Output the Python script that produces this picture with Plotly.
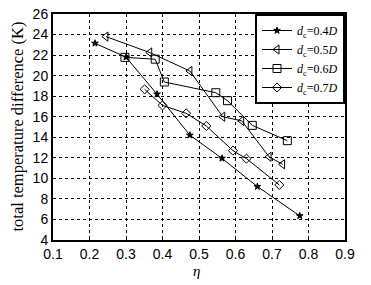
import plotly.graph_objects as go

x_04 = [0.215, 0.30, 0.385, 0.475, 0.563, 0.66, 0.776]
y_04 = [23.15, 21.8, 18.2, 14.2, 11.95, 9.2, 6.35]
x_05 = [0.245, 0.365, 0.475, 0.565, 0.617, 0.692, 0.729]
y_05 = [23.8, 22.25, 20.45, 16.0, 15.6, 12.1, 11.37]
x_06 = [0.297, 0.38, 0.405, 0.546, 0.578, 0.646, 0.742]
y_06 = [21.78, 21.6, 19.38, 18.34, 17.56, 15.16, 13.67]
x_07 = [0.351, 0.40, 0.465, 0.52, 0.593, 0.63, 0.72]
y_07 = [18.67, 17.1, 16.33, 15.1, 12.7, 11.92, 9.36]

names = ["<i>d</i><sub>c</sub>=0.4<i>D</i>", "<i>d</i><sub>c</sub>=0.5<i>D</i>",
         "<i>d</i><sub>c</sub>=0.6<i>D</i>", "<i>d</i><sub>c</sub>=0.7<i>D</i>"]
x_ticks = [0.1, 0.2, 0.3, 0.4, 0.5, 0.6, 0.7, 0.8, 0.9]
y_ticks = [4, 6, 8, 10, 12, 14, 16, 18, 20, 22, 24, 26]

series = [(x_04, y_04, "star", 5), (x_05, y_05, "triangle-left-open", 8),
          (x_06, y_06, "square-open", 8), (x_07, y_07, "diamond-open", 7)]

fig = go.Figure()
for (xs, ys, sym, sz), nm in zip(series, names):
    fig.add_trace(go.Scatter(x=xs, y=ys, mode="lines+markers", name=nm,
                             line=dict(color="black", width=1),
                             marker=dict(symbol=sym, size=sz, color="black",
                                         line=dict(color="black", width=1))))

axis_common = dict(showline=True, linewidth=2, linecolor="black", mirror=True,
                   showgrid=True, gridcolor="black", griddash="dot", gridwidth=1,
                   ticks="inside", ticklen=3, tickcolor="black", zeroline=False,
                   automargin=False,
                   tickfont=dict(family="Liberation Sans", size=14, color="black"))

fig.update_xaxes(range=[0.1, 0.9], tickvals=x_ticks, ticktext=[str(v) for v in x_ticks],
                 **axis_common)
fig.update_yaxes(range=[4, 26], tickvals=y_ticks, **axis_common)

fig.add_annotation(text="total temperature difference (K)", xref="paper", yref="paper",
                   x=-0.125, y=0.5, xanchor="center", yanchor="middle", textangle=-90,
                   showarrow=False,
                   font=dict(family="Liberation Serif", size=16.5, color="black"))
fig.add_annotation(text="<i>η</i>", xref="paper", yref="paper",
                   x=0.49, y=-0.135, xanchor="center", yanchor="middle",
                   showarrow=False,
                   font=dict(family="Liberation Serif", size=15, color="black"))

fig.update_layout(width=371, height=285, margin=dict(l=53, r=26, t=14, b=45, autoexpand=False),
                  paper_bgcolor="white", plot_bgcolor="white",
                  legend=dict(x=1, y=1.0, xanchor="right", yanchor="top",
                              bordercolor="black", borderwidth=2, bgcolor="white",
                              font=dict(family="Liberation Serif", size=12, color="black"),
                              tracegroupgap=0, itemwidth=30),
                  showlegend=True)

fig.write_html("out.html", config={"displayModeBar": False},
               post_script="document.body.style.margin='0';document.body.style.overflow='hidden';")
